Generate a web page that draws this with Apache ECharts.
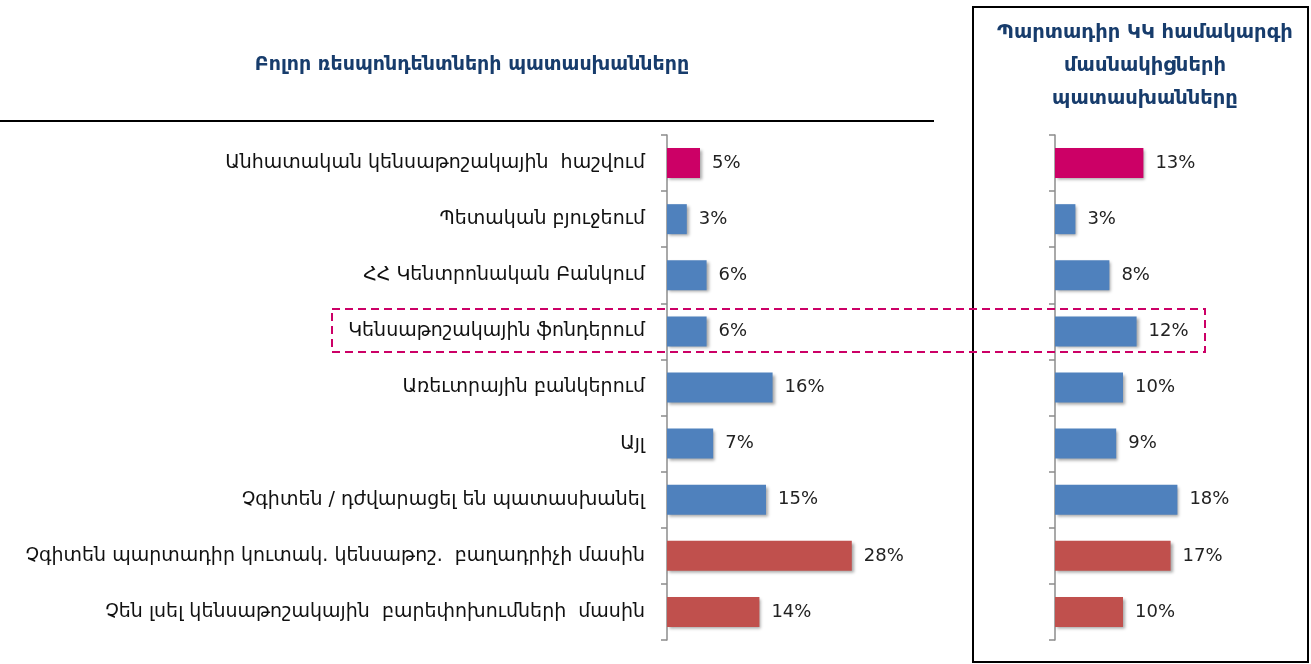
<!DOCTYPE html>
<html>
<head>
<meta charset="utf-8">
<script src="https://cdn.jsdelivr.net/npm/echarts@6/dist/echarts.min.js"></script>
<style>
    html, body { margin: 0; padding: 0; background: #fff; }
    #chart { width: 1311px; height: 664px; }
</style>
</head>
<body>
<div id="chart"></div>
<script>
const categories = [
    "Անհատական կենսաթոշակային  հաշվում",
    "Պետական բյուջեում",
    "ՀՀ Կենտրոնական Բանկում",
    "Կենսաթոշակային ֆոնդերում",
    "Առեւտրային բանկերում",
    "Այլ",
    "Չգիտեն / դժվարացել են պատասխանել",
    "Չգիտեն պարտադիր կուտակ. կենսաթոշ.  բաղադրիչի մասին",
    "Չեն լսել կենսաթոշակային  բարեփոխումների  մասին"
]
// all respondents
const allValues = [5, 3, 6, 6, 16, 7, 15, 28, 14]
// participants of the mandatory funded system
const memberValues = [13, 3, 8, 12, 10, 9, 18, 17, 10]
const barColors = ["#CC0066", "#4F81BD", "#4F81BD", "#4F81BD", "#4F81BD", "#4F81BD", "#4F81BD", "#C0504D", "#C0504D"]

const leftTitle = "Բոլոր ռեսպոնդենտների պատասխանները"
const rightTitle = "Պարտադիր ԿԿ համակարգի\nմասնակիցների\nպատասխանները"

const font = "DejaVu Sans"
const titleColor = "#173C6C"

function makeData(values) {
    return values.map((v, i) => ({
        value: v,
        itemStyle: { color: barColors[i] }
    }))
}

const barStyle = {
    shadowBlur: 3,
    shadowColor: "rgba(0,0,0,0.35)",
    shadowOffsetX: 2,
    shadowOffsetY: 2
}

const valueLabel = {
    show: true,
    position: "right",
    distance: 12,
    formatter: "{c}%",
    fontFamily: font,
    fontSize: 18,
    color: "#222"
}

const chart = echarts.init(document.getElementById("chart"))
const option = {
    animation: false,
    backgroundColor: "#fff",
    title: [
        {
            text: leftTitle,
            left: 467,
            top: 48,
            textAlign: "center",
            textStyle: { fontFamily: font, fontSize: 19, fontWeight: "bold", color: titleColor, lineHeight: 24 }
        },
        {
            text: rightTitle,
            left: 1140,
            top: 11,
            textAlign: "center",
            textStyle: { fontFamily: font, fontSize: 19.5, fontWeight: "bold", color: titleColor, lineHeight: 33 }
        }
    ],
    grid: [
        { left: 667, top: 135, width: 198, height: 505 },
        { left: 1055, top: 135, width: 136, height: 505 }
    ],
    xAxis: [
        { gridIndex: 0, type: "value", min: 0, max: 30, show: false },
        { gridIndex: 1, type: "value", min: 0, max: 20, show: false }
    ],
    yAxis: [0, 1].map(i => ({
        gridIndex: i,
        type: "category",
        inverse: true,
        data: categories,
        axisLine: { show: true, lineStyle: { color: "#8c8c8c", width: 1.5 } },
        axisTick: { show: true, length: 6, lineStyle: { color: "#8c8c8c", width: 1.5 } },
        axisLabel: {
            show: i === 0,
            margin: 22,
            fontFamily: font,
            fontSize: 19,
            color: "#111"
        },
        splitLine: { show: false }
    })),
    series: [
        {
            type: "bar",
            xAxisIndex: 0,
            yAxisIndex: 0,
            barWidth: 30,
            itemStyle: barStyle,
            label: valueLabel,
            data: makeData(allValues)
        },
        {
            type: "bar",
            xAxisIndex: 1,
            yAxisIndex: 1,
            barWidth: 30,
            itemStyle: barStyle,
            label: valueLabel,
            data: makeData(memberValues)
        }
    ],
    graphic: [
        {
            type: "line",
            shape: { x1: 0, y1: 121, x2: 934, y2: 121 },
            style: { stroke: "#000", lineWidth: 2 }
        },
        {
            type: "rect",
            shape: { x: 973, y: 7, width: 335, height: 655 },
            style: { fill: null, stroke: "#000", lineWidth: 2 }
        },
        {
            type: "rect",
            z: 10,
            shape: { x: 332, y: 309, width: 873, height: 43 },
            style: { fill: null, stroke: "#CC0066", lineWidth: 2, lineDash: [8, 5] }
        }
    ]
}
chart.setOption(option)
</script>
</body>
</html>
